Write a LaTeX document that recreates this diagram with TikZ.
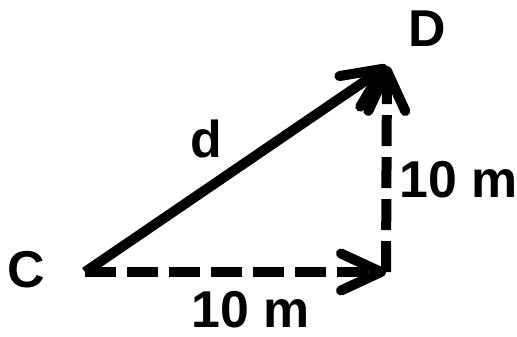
\documentclass[tikz,border=0pt]{standalone}
\usepackage{fontspec}
\setmainfont{Liberation Sans}
\usetikzlibrary{arrows.meta}

\begin{document}
\begin{tikzpicture}[
   x=0.02cm, y=-0.02cm,
   lbl/.style={font=\fontsize{29.5}{32}\selectfont\bfseries, inner sep=0pt},
   vec/.style={line width=0.2cm,
               -{Straight Barb[length=8mm, width=7.4mm, round]}},
   comp/.style={vec, dash pattern=on 0.62cm off 0.22cm}]
  \useasboundingbox (0,0) rectangle (517,336);
  \coordinate (c) at (85,272);
  \coordinate (e) at (386,272);
  \coordinate (d) at (387,66);
  \node[lbl] (lc) at (26,270) {C};
  \node[lbl] (ld) at (427,29) {D};
  \node[lbl] (lm) at (206,139) {d};
  \node[lbl] (lx) at (251,310) {10 m};
  \node[lbl] (ly) at (459,180) {10 m};
  \draw[comp] (c) -- (e);
  \draw[comp] (e) -- (d);
  \draw[vec] (c) -- (d);
\end{tikzpicture}
\end{document}
